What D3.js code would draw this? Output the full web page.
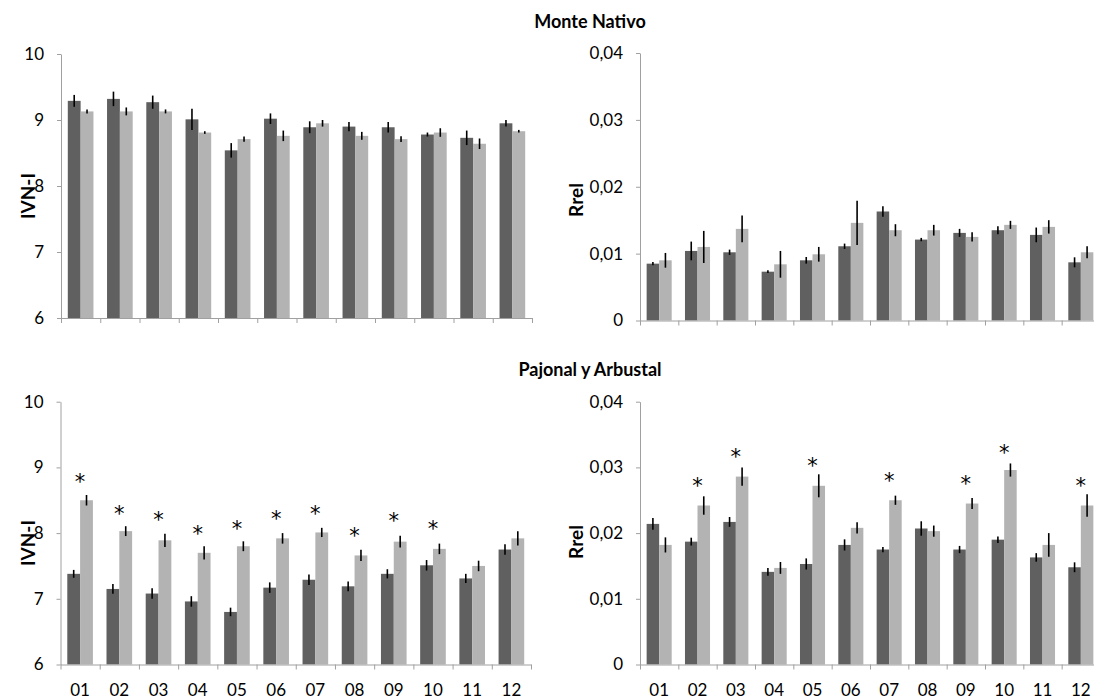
<!DOCTYPE html>
<html><head><meta charset="utf-8">
<script src="https://cdn.jsdelivr.net/npm/d3@7"></script>
<style>
body{margin:0;background:#fff}
svg{display:block}
text{font-family:Lato,"Open Sans",sans-serif}
</style></head>
<body><svg id="chart" width="1094" height="699"></svg>
<script>
// ---- data ----
const categories = ["01","02","03","04","05","06","07","08","09","10","11","12"];
const seriesKeys = ["a","b"];
const seriesColors = ["#606060","#b3b3b3"];

const ivnTicks = [6,7,8,9,10];
const ivnTickLabels = ["6","7","8","9","10"];
const rrelTicks = [0,0.01,0.02,0.03,0.04];
const rrelTickLabels = ["0","0,01","0,02","0,03","0,04"];

// Monte Nativo – IVN-I
const mnIvnA    = [9.29,9.32,9.27,9.01,8.54,9.02,8.89,8.90,8.89,8.78,8.73,8.95];
const mnIvnAErr = [0.09,0.11,0.10,0.16,0.11,0.08,0.09,0.07,0.08,0.03,0.11,0.05];
const mnIvnB    = [9.13,9.13,9.13,8.81,8.71,8.76,8.95,8.76,8.71,8.81,8.64,8.83];
const mnIvnBErr = [0.03,0.06,0.03,0.02,0.04,0.08,0.05,0.06,0.045,0.065,0.08,0.02];

// Monte Nativo – Rrel
const mnRrelA    = [0.0085,0.0104,0.0102,0.0073,0.0090,0.0111,0.0163,0.0121,0.0131,0.0135,0.0128,0.0087];
const mnRrelAErr = [0.00025,0.0014,0.0004,0.0002,0.0005,0.0004,0.0008,0.00025,0.0006,0.0006,0.0011,0.00075];
const mnRrelB    = [0.0090,0.0110,0.0137,0.0084,0.0099,0.0146,0.0135,0.0135,0.0125,0.0143,0.0140,0.0102];
const mnRrelBErr = [0.0011,0.0024,0.0020,0.0020,0.0011,0.0033,0.0009,0.0008,0.0007,0.0006,0.0010,0.0009];

// Pajonal y Arbustal – IVN-I
const paIvnA    = [7.38,7.15,7.08,6.96,6.80,7.17,7.29,7.19,7.38,7.51,7.31,7.75];
const paIvnAErr = [0.06,0.075,0.08,0.08,0.065,0.08,0.08,0.075,0.07,0.08,0.07,0.08];
const paIvnB    = [8.50,8.03,7.89,7.70,7.80,7.92,8.01,7.66,7.87,7.76,7.50,7.92];
const paIvnBErr = [0.08,0.075,0.10,0.10,0.075,0.08,0.07,0.085,0.09,0.08,0.08,0.11];
const paIvnStars = [8.835,8.354,8.263,8.04,8.127,8.278,8.354,8.01,8.243,8.127,null,null];

// Pajonal y Arbustal – Rrel
const paRrelA    = [0.0214,0.0187,0.0217,0.0141,0.0153,0.0182,0.0175,0.0207,0.0175,0.0190,0.0163,0.0148];
const paRrelAErr = [0.0009,0.0006,0.00075,0.0006,0.00085,0.00085,0.0004,0.0011,0.00055,0.0005,0.00065,0.00075];
const paRrelB    = [0.0182,0.0242,0.0286,0.0147,0.0272,0.0208,0.0250,0.0203,0.0245,0.0296,0.0182,0.0242];
const paRrelBErr = [0.00115,0.0014,0.0014,0.0009,0.00175,0.00085,0.0007,0.00085,0.00085,0.0010,0.0018,0.0017];
const paRrelStars = [null,0.02785,0.03215,null,0.03089,null,0.02861,null,0.0281,0.03276,null,0.02785];

const sectionTitles = ["Monte Nativo","Pajonal y Arbustal"];

// ---- layout ----
const svg = d3.select("#chart");
const axisColor = "#a0a0a0";
const tickFont = 17;

const panels = [
  {vals:[mnIvnA,mnIvnB], errs:[mnIvnAErr,mnIvnBErr], stars:null, domain:[6,10], ticks:ivnTicks, tickLabels:ivnTickLabels,
   x0:61, x1:532, yTop:54, yBot:318, xLabels:false, title:"IVN-I", titleX:35, titleY:196},
  {vals:[mnRrelA,mnRrelB], errs:[mnRrelAErr,mnRrelBErr], stars:null, domain:[0,0.04], ticks:rrelTicks, tickLabels:rrelTickLabels,
   x0:640, x1:1100, yTop:53, yBot:320.5, xLabels:false, title:"Rrel", titleX:583, titleY:200},
  {vals:[paIvnA,paIvnB], errs:[paIvnAErr,paIvnBErr], stars:paIvnStars, domain:[6,10], ticks:ivnTicks, tickLabels:ivnTickLabels,
   x0:60.5, x1:531, yTop:401.7, yBot:664.5, xLabels:true, title:"IVN-I", titleX:35, titleY:543},
  {vals:[paRrelA,paRrelB], errs:[paRrelAErr,paRrelBErr], stars:paRrelStars, domain:[0,0.04], ticks:rrelTicks, tickLabels:rrelTickLabels,
   x0:640, x1:1100, yTop:401.7, yBot:664.5, xLabels:true, title:"Rrel", titleX:583, titleY:542}
];

panels.forEach(p => {
  const g = svg.append("g");
  const x = d3.scaleBand().domain(categories).range([p.x0, p.x1]).padding(0);
  const inner = d3.scaleBand().domain(seriesKeys).range([0, x.bandwidth()]).paddingInner(0).paddingOuter(0.53);
  const y = d3.scaleLinear().domain(p.domain).range([p.yBot, p.yTop]);

  // bars
  seriesKeys.forEach((k, si) => {
    g.append("g").selectAll("rect").data(categories).join("rect")
      .attr("x", c => x(c) + inner(k))
      .attr("width", inner.bandwidth())
      .attr("y", (c, i) => y(p.vals[si][i]))
      .attr("height", (c, i) => y(p.domain[0]) - y(p.vals[si][i]))
      .attr("fill", seriesColors[si]);
  });
  // error bars
  seriesKeys.forEach((k, si) => {
    g.append("g").selectAll("line").data(categories).join("line")
      .attr("x1", c => x(c) + inner(k) + inner.bandwidth()/2)
      .attr("x2", c => x(c) + inner(k) + inner.bandwidth()/2)
      .attr("y1", (c, i) => y(p.vals[si][i] - p.errs[si][i]))
      .attr("y2", (c, i) => y(p.vals[si][i] + p.errs[si][i]))
      .attr("stroke", "#000").attr("stroke-width", 1.6);
  });
  // stars
  if (p.stars) {
    g.append("g").selectAll("text").data(categories.filter((c,i) => p.stars[i] != null)).join("text")
      .attr("x", c => x(c) + inner("b"))
      .attr("y", c => y(p.stars[categories.indexOf(c)]) + 11)
      .attr("text-anchor", "middle")
      .attr("font-size", 21)
      .attr("fill", "#000")
      .style("font-family", "'DejaVu Sans',sans-serif")
      .text("*");
  }

  // y axis
  const yAxis = g.append("g").attr("transform", `translate(${p.x0},0)`)
    .call(d3.axisLeft(y).tickValues(p.ticks).tickFormat((d,i) => p.tickLabels[i]).tickSize(4).tickSizeOuter(0).tickPadding(13));
  yAxis.select(".domain").attr("stroke", axisColor);
  yAxis.selectAll(".tick line").attr("stroke", axisColor);
  yAxis.selectAll(".tick text").attr("font-size", tickFont).attr("fill", "#000").style("font-family","Lato,'Open Sans',sans-serif");

  // x axis with ticks at category boundaries
  const xb = d3.scaleLinear().domain([0, categories.length]).range([p.x0, p.x1]);
  const xAxis = g.append("g").attr("transform", `translate(0,${p.yBot})`)
    .call(d3.axisBottom(xb).tickValues(d3.range(categories.length + 1)).tickFormat("").tickSize(5).tickSizeOuter(0));
  xAxis.select(".domain").attr("stroke", axisColor);
  xAxis.selectAll(".tick line").attr("stroke", axisColor);

  if (p.xLabels) {
    const xl = g.append("g").attr("transform", `translate(0,${p.yBot})`)
      .call(d3.axisBottom(x).tickSize(0).tickPadding(19));
    xl.select(".domain").remove();
    xl.selectAll(".tick text").attr("font-size", tickFont).attr("fill", "#000").style("font-family","Lato,'Open Sans',sans-serif");
  }

  // y title
  svg.append("text")
    .attr("transform", `translate(${p.titleX},${p.titleY}) rotate(-90)`)
    .attr("text-anchor", "middle")
    .attr("font-size", 19).attr("font-weight", "bold").attr("fill", "#000")
    .text(p.title);
});

// section titles
svg.append("text").attr("x", 590).attr("y", 28).attr("text-anchor","middle")
  .attr("font-size", 18).attr("font-weight","bold").text(sectionTitles[0]);
svg.append("text").attr("x", 590).attr("y", 376).attr("text-anchor","middle")
  .attr("font-size", 18).attr("font-weight","bold").text(sectionTitles[1]);
</script></body></html>
